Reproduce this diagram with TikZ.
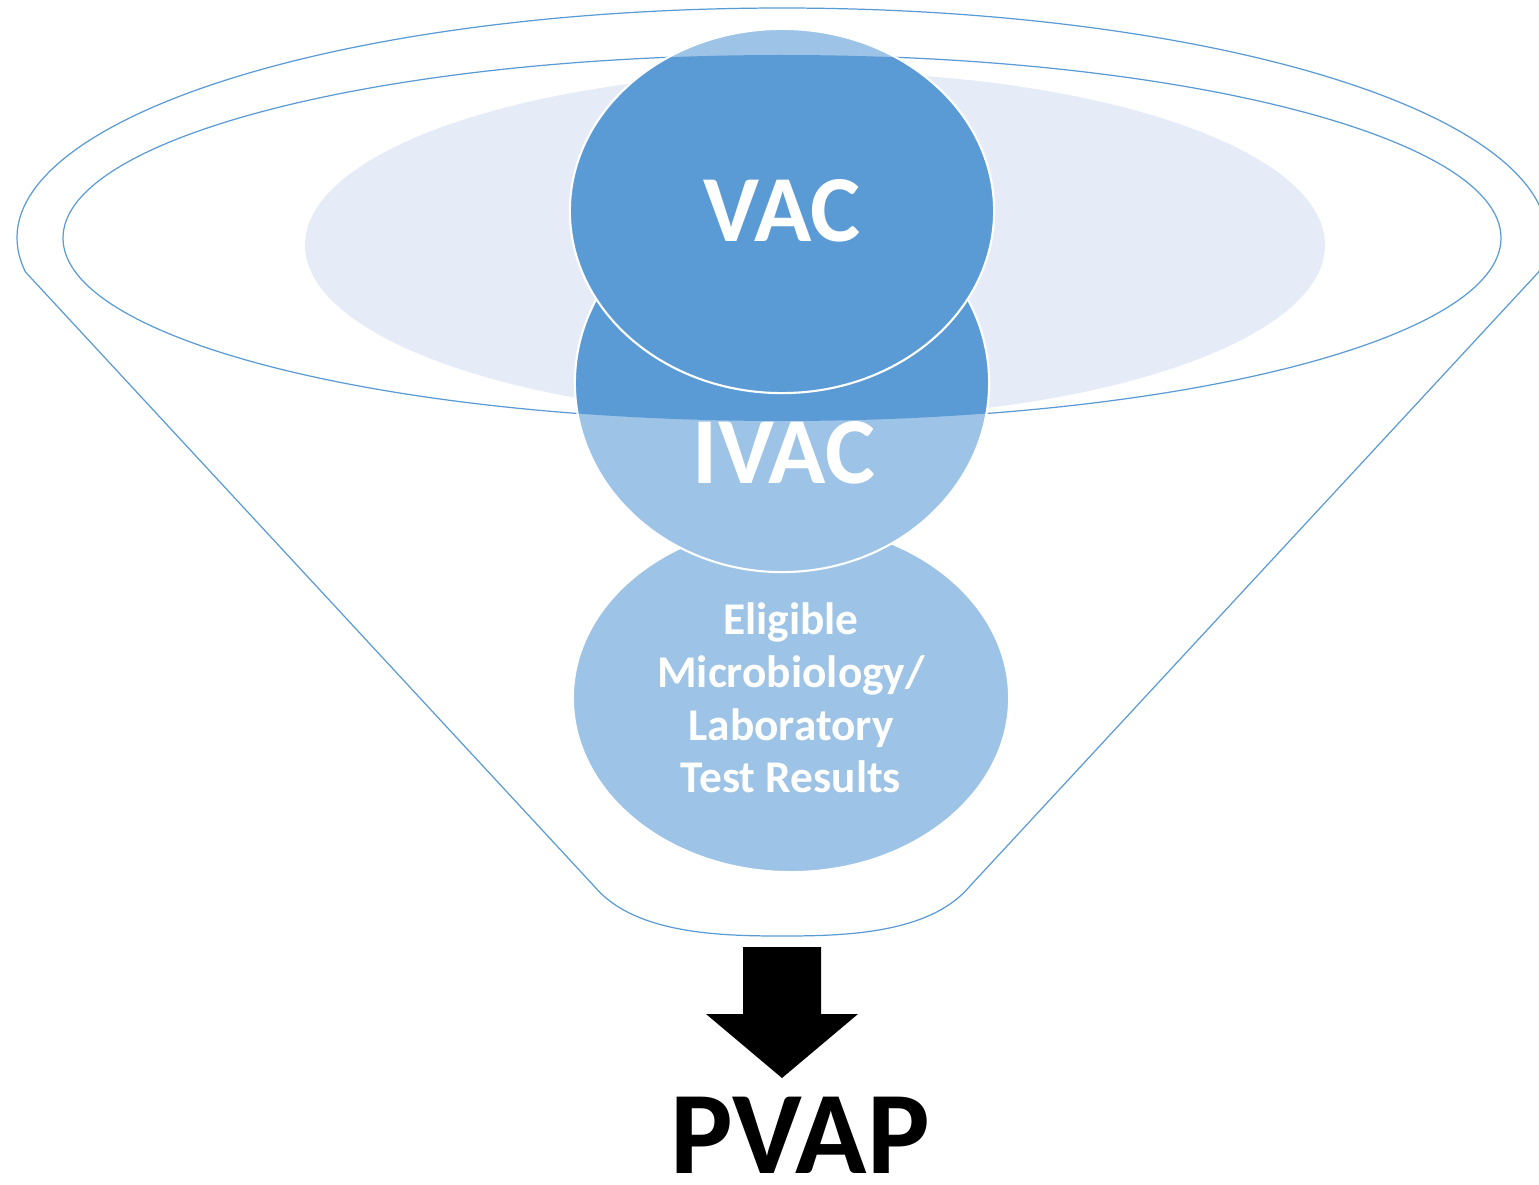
\documentclass[tikz,border=0pt]{standalone}
\usepackage{fontspec}
\setmainfont{Carlito}
\usepackage{xcolor}
\usepackage{tikz}
\usetikzlibrary{shapes.geometric}
\definecolor{xanhdam}{HTML}{5B9BD5}
\definecolor{xanhnhat}{HTML}{9DC3E6}
\definecolor{nenxanh}{HTML}{E6ECF7}

\begin{document}
\begin{tikzpicture}[x=0.01cm,y=0.01cm,
	phieu/.style={draw=xanhdam,line width=0.35pt},
	vong/.style={ellipse,inner sep=0pt,fill=xanhnhat,draw=white,line width=0.6pt,
		text=white,align=center,
		path picture={\fill[xanhdam] (tam) ellipse [x radius=719, y radius=183];}},
	chu/.style={text=white,font=\bfseries\fontsize{26.9}{32}\selectfont}]
			\useasboundingbox (0,0) rectangle (1539,-1185);
			\coordinate (tam) at (782,-238);
			% Vẽ phễu
			\fill[nenxanh] (815,-245) ellipse [x radius=510, y radius=173];
			\draw[phieu] (25.5,-272) arc[start angle=188.5, end angle=-8.5, x radius=765, y radius=230]
				-- (970,-886) .. controls (930,-934) and (844,-936) .. (782,-936)
				.. controls (720,-936) and (634,-934) .. (594,-886) -- cycle;
			\draw[phieu] (tam) ellipse [x radius=719, y radius=183];
			% Vẽ các vòng
			\node[vong,minimum width=4.36cm,minimum height=3.48cm,
				font=\bfseries\fontsize{12.9}{15}\selectfont] (kq) at (791,-698)
				{Eligible\\Microbiology/\\Laboratory\\Test Results};
			\node[vong,minimum width=4.14cm,minimum height=3.78cm] (ivac) at (782,-383) {};
			\node[chu] (ivacchu) at (784,-453) {IVAC};
			\node[vong,chu,minimum width=4.24cm,minimum height=3.64cm] (vac) at (782,-211) {VAC};
			% Mũi tên
			\fill (743,-947) -- (821,-947) -- (821,-1014) -- (858,-1014) -- (782,-1078)
				-- (706,-1014) -- (743,-1014) -- cycle;
			\node[font=\bfseries\fontsize{33.5}{38}\selectfont,inner sep=1pt] (pvap) at (800,-1135) {PVAP};
		\end{tikzpicture}
\end{document}
